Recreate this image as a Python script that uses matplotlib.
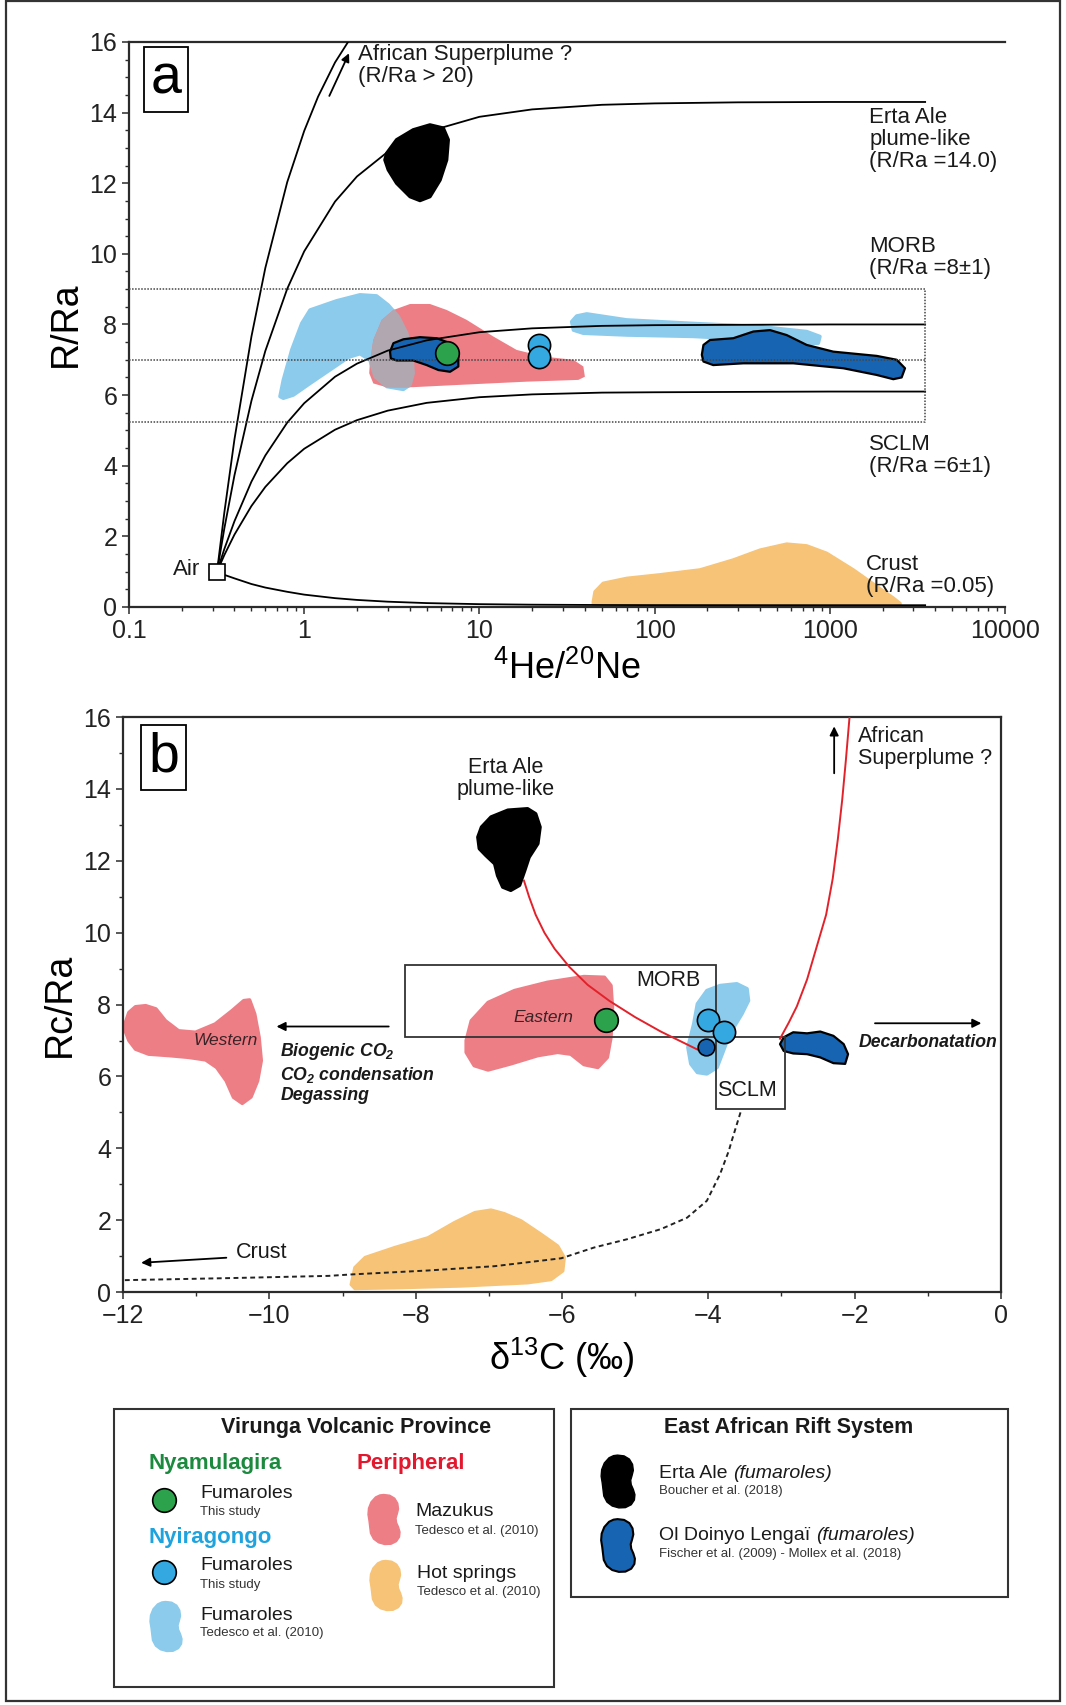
import matplotlib
matplotlib.use("Agg")
import matplotlib.pyplot as plt
from matplotlib.patches import Rectangle
from matplotlib.path import Path
from matplotlib.ticker import FixedLocator, MultipleLocator, LogLocator, NullFormatter

plt.rcParams['font.family'] = ['Liberation Sans', 'DejaVu Sans']
plt.rcParams['mathtext.fontset'] = 'custom'
plt.rcParams['mathtext.rm'] = 'Liberation Sans'
plt.rcParams['mathtext.it'] = 'Liberation Sans:italic'
plt.rcParams['mathtext.bf'] = 'Liberation Sans:bold'
plt.rcParams['mathtext.default'] = 'regular'

# --- colours ---
C_LBLUE = '#8ccbec'
C_RED = '#ee7e86'
C_GREY = '#b1a7b1'
C_DBLUE = '#1765b2'
C_CYAN = '#34a9e1'
C_GREEN = '#2ba24b'
C_ORANGE = '#f6c377'
C_LINE = '#e2222b'

# --- panel a : mixing curves (4He/20Ne vs R/Ra) ---
air_x, air_y = 0.318, 1.0
mix_x = [0.318, 0.35, 0.4, 0.5, 0.6, 0.8, 1, 1.5, 2, 3, 5, 10, 20, 50, 100, 300, 1000, 3500]
erta_y = [1.0, 2.22, 3.73, 5.84, 7.25, 9.01, 10.07, 11.48, 12.19, 12.89, 13.45, 13.88, 14.09, 14.22, 14.26, 14.29, 14.3, 14.3]
morb_y = [1.0, 1.64, 2.43, 3.55, 4.29, 5.22, 5.77, 6.52, 6.89, 7.26, 7.55, 7.78, 7.89, 7.96, 7.98, 7.99, 8.0, 8.0]
sclm_y = [1.0, 1.47, 2.05, 2.86, 3.4, 4.07, 4.48, 5.02, 5.29, 5.56, 5.78, 5.94, 6.02, 6.07, 6.08, 6.09, 6.1, 6.1]
crust_y = [1.0, 0.91, 0.81, 0.65, 0.55, 0.43, 0.35, 0.25, 0.2, 0.15, 0.11, 0.08, 0.065, 0.056, 0.053, 0.051, 0.05, 0.05]
plume_x = [0.318, 0.35, 0.4, 0.5, 0.6, 0.8, 1, 1.2, 1.5, 1.78]
plume_y = [1.0, 2.67, 4.75, 7.66, 9.6, 12.03, 13.48, 14.45, 15.42, 16.0]
morb_box_x = [0.1, 3500, 3500, 0.1]
morb_box_y = [9.0, 9.0, 5.25, 5.25]
morb_mid_y = 7.0

# panel a fields (He/Ne, R/Ra)
a_lblue_x = [0.727, 0.76, 0.849, 0.968, 1.08, 1.53, 2.08, 2.59, 3.02, 3.45, 3.85, 4.11, 4.19, 4.02, 3.68,
             2.96, 2.54, 2.37, 2.08, 1.79, 1.40, 1.08, 0.867, 0.76]
a_lblue_y = [5.96, 6.43, 7.28, 8.03, 8.41, 8.67, 8.84, 8.81, 8.55, 8.22, 7.75, 7.18, 6.62, 6.29, 6.16,
             6.24, 6.52, 7.0, 7.17, 7.07, 6.71, 6.33, 6.0, 5.91]
a_red_x = [2.37, 2.48, 2.77, 3.23, 4.02, 5.22, 6.51, 8.46, 12.0, 16.3, 23.2, 34.4, 39.2, 40.0, 36.7,
           18.6, 7.74, 4.02, 2.96, 2.48, 2.35]
a_red_y = [6.90, 7.56, 8.13, 8.41, 8.58, 8.58, 8.41, 8.13, 7.66, 7.28, 7.09, 7.0, 6.81, 6.52, 6.43,
           6.38, 6.29, 6.22, 6.22, 6.33, 6.62]
a_lblue2_x = [33.6, 35.9, 41.0, 69.3, 166, 400, 738, 879, 860, 738, 400, 166, 69.3, 39.2, 34.4]
a_lblue2_y = [8.08, 8.24, 8.30, 8.13, 8.03, 7.94, 7.80, 7.66, 7.47, 7.45, 7.56, 7.66, 7.70, 7.75, 7.84]
a_dblue1_x = [3.09, 3.23, 3.68, 4.58, 5.71, 6.80, 7.58, 7.58, 6.80, 5.83, 5.0, 4.19, 3.37, 3.12]
a_dblue1_y = [7.23, 7.47, 7.58, 7.64, 7.61, 7.47, 7.14, 6.81, 6.66, 6.71, 6.85, 6.98, 6.98, 7.04]
a_dblue2_x = [186, 190, 207, 281, 366, 456, 567, 738, 1047, 1852, 2409, 2686, 2570, 2304, 1852,
              1194, 619, 321, 216, 190]
a_dblue2_y = [7.14, 7.42, 7.56, 7.61, 7.80, 7.84, 7.70, 7.42, 7.23, 7.11, 7.0, 6.76, 6.50, 6.45, 6.57,
              6.76, 6.90, 6.90, 6.85, 6.95]
a_black_x = [2.96, 3.37, 4.19, 5.22, 6.22, 6.64, 6.50, 5.96, 5.22, 4.58, 4.02, 3.37, 3.02, 2.89]
a_black_y = [12.85, 13.23, 13.51, 13.65, 13.56, 13.23, 12.66, 12.09, 11.62, 11.51, 11.62, 12.0, 12.38, 12.66]
a_orange_x = [44.7, 45.7, 50.9, 69.3, 107, 182, 281, 400, 567, 738, 959, 1361, 1852, 2304, 2516, 2516, 44.7]
a_orange_y = [0.15, 0.43, 0.67, 0.81, 0.91, 1.05, 1.33, 1.61, 1.78, 1.73, 1.52, 1.05, 0.58, 0.25, 0.1, 0.08, 0.08]
a_green_x, a_green_y = [6.5], [7.2]
a_cyan_x, a_cyan_y = [22.0, 22.0], [7.42, 7.07]

# --- panel b : d13C vs Rc/Ra ---
morb_rect = (-8.15, 7.1, 4.25, 2.0)    # x, y, width, height
sclm_rect = (-3.9, 5.1, 0.95, 2.0)
b_red_x = [-11.99, -11.92, -11.83, -11.69, -11.55, -11.42, -11.24, -11.01, -10.74, -10.51, -10.35, -10.27,
           -10.20, -10.14, -10.11, -10.16, -10.25, -10.37, -10.49, -10.59, -10.72, -10.87, -11.10, -11.37,
           -11.65, -11.83, -11.92]
b_red_y = [7.37, 7.78, 7.94, 7.97, 7.88, 7.55, 7.27, 7.23, 7.46, 7.83, 8.11, 8.13, 7.74, 7.09, 6.44, 5.88,
           5.43, 5.25, 5.42, 5.88, 6.25, 6.46, 6.53, 6.58, 6.62, 6.76, 7.0]
b_east_x = [-7.31, -7.24, -7.01, -6.65, -6.20, -5.70, -5.42, -5.33, -5.31, -5.33, -5.38, -5.51, -5.70,
            -5.88, -6.06, -6.33, -6.70, -7.01, -7.20, -7.31]
b_east_y = [7.0, 7.55, 8.06, 8.39, 8.62, 8.78, 8.76, 8.53, 7.92, 7.09, 6.53, 6.25, 6.33, 6.62, 6.67,
            6.58, 6.35, 6.18, 6.30, 6.67]
b_lblue_x = [-4.20, -4.15, -4.02, -3.84, -3.61, -3.47, -3.45, -3.54, -3.65, -3.74, -3.81, -3.88, -4.02,
             -4.15, -4.24, -4.28]
b_lblue_y = [7.46, 8.02, 8.39, 8.53, 8.58, 8.44, 8.11, 7.74, 7.37, 7.0, 6.62, 6.25, 6.07, 6.11, 6.35, 6.81]
b_dblue_x = [-3.02, -2.97, -2.84, -2.65, -2.47, -2.29, -2.15, -2.09, -2.13, -2.29, -2.47, -2.65, -2.84, -2.97]
b_dblue_y = [6.90, 7.09, 7.23, 7.20, 7.25, 7.13, 6.90, 6.62, 6.35, 6.37, 6.53, 6.62, 6.64, 6.71]
b_black_x = [-7.15, -7.10, -6.97, -6.74, -6.47, -6.36, -6.30, -6.33, -6.45, -6.51, -6.58, -6.70, -6.81,
             -6.88, -6.92, -7.04, -7.13]
b_black_y = [12.66, 12.94, 13.22, 13.41, 13.45, 13.31, 12.94, 12.48, 12.10, 11.73, 11.32, 11.18, 11.27,
             11.59, 11.92, 12.15, 12.34]
b_orange_x = [-8.88, -8.83, -8.69, -8.28, -7.83, -7.47, -7.19, -6.97, -6.79, -6.56, -6.29, -6.06, -5.97,
              -5.99, -6.15, -6.47, -7.38, -8.28, -8.83]
b_orange_y = [0.21, 0.68, 0.96, 1.24, 1.51, 1.93, 2.21, 2.28, 2.18, 1.98, 1.61, 1.28, 0.96, 0.59, 0.35,
              0.26, 0.17, 0.12, 0.10]
b_green_x, b_green_y = [-5.40], [7.57]
b_cyan_x, b_cyan_y = [-4.01, -3.78], [7.58, 7.23]
b_dot_x, b_dot_y = [-4.03], [6.81]
erta_line_x = [-6.52, -6.45, -6.36, -6.24, -6.10, -5.90, -5.65, -5.35, -5.0, -4.65, -4.35, -4.07]
erta_line_y = [11.45, 11.0, 10.5, 10.0, 9.55, 9.05, 8.55, 8.1, 7.65, 7.25, 6.95, 6.67]
plume_line_x = [-3.02, -2.90, -2.79, -2.65, -2.52, -2.39, -2.30, -2.23, -2.17, -2.12, -2.07]
plume_line_y = [7.05, 7.5, 7.95, 8.7, 9.6, 10.5, 11.5, 12.6, 13.7, 14.8, 16.0]
crust_line_x = [-3.56, -3.68, -3.72, -3.84, -4.02, -4.29, -4.65, -5.11, -5.56, -6.01, -6.92, -7.83, -8.88,
                -9.19, -10.5, -12.0]
crust_line_y = [5.0, 4.21, 3.93, 3.28, 2.54, 2.07, 1.75, 1.47, 1.24, 0.94, 0.72, 0.60, 0.49, 0.45, 0.39, 0.33]

a_xticks = [0.1, 1, 10, 100, 1000, 10000]
a_xticklabels = ['0.1', '1', '10', '100', '1000', '10000']
yticks = [0, 2, 4, 6, 8, 10, 12, 14, 16]
b_xticks = [-12, -10, -8, -6, -4, -2, 0]

fig = plt.figure(figsize=(10.66, 17.05), dpi=100)


def blob(ax, xs, ys, color, edge=None, z=2, lw=2.5):
    if edge is None:
        p = ax.fill(xs, ys, facecolor=color, edgecolor=color, lw=lw, joinstyle='round', zorder=z)
    else:
        p = ax.fill(xs, ys, facecolor=color, edgecolor=edge, lw=1.6, joinstyle='round', zorder=z)
    return p[0]


def style_axes(ax):
    for s in ax.spines.values():
        s.set_linewidth(1.6)
        s.set_color('#2b2b2b')
    ax.tick_params(which='major', direction='out', length=5, width=1.1, labelsize=18, colors='#2b2b2b',
                   labelcolor='#222222')
    ax.tick_params(which='minor', direction='out', length=3, width=1.0, colors='#2b2b2b')


# ================= panel a =================
ax = fig.add_axes([0.1210, 0.6440, 0.8218, 0.3314])
ax.set_xscale('log')
ax.set_xlim(0.1, 10000)
ax.set_ylim(0, 16)
style_axes(ax)
ax.spines['right'].set_visible(False)
ax.xaxis.set_major_locator(FixedLocator(a_xticks))
ax.set_xticklabels(a_xticklabels)
ax.xaxis.set_minor_locator(LogLocator(base=10, subs=range(2, 10)))
ax.xaxis.set_minor_formatter(NullFormatter())
ax.set_yticks(yticks)
ax.yaxis.set_minor_locator(MultipleLocator(0.5))

lb = blob(ax, a_lblue_x, a_lblue_y, C_LBLUE, z=2)
rd = blob(ax, a_red_x, a_red_y, C_RED, z=3, lw=0)
gr = ax.fill(a_lblue_x, a_lblue_y, facecolor=C_GREY, edgecolor=C_GREY, lw=2.5, joinstyle='round', zorder=3.5)[0]
gr.set_clip_path(rd)
blob(ax, a_lblue2_x, a_lblue2_y, C_LBLUE, z=2)
blob(ax, a_orange_x, a_orange_y, C_ORANGE, z=2)
blob(ax, a_black_x, a_black_y, 'black', z=4)
blob(ax, a_dblue1_x, a_dblue1_y, C_DBLUE, edge='black', z=4)
blob(ax, a_dblue2_x, a_dblue2_y, C_DBLUE, edge='black', z=4)

dot = dict(linestyle='none', marker='o', markeredgecolor='black', markeredgewidth=1.2, zorder=7)
line_kw = dict(color='black', lw=1.3, zorder=5)
ax.plot(mix_x, erta_y, **line_kw)
ax.plot(mix_x, morb_y, **line_kw)
ax.plot(mix_x, sclm_y, **line_kw)
ax.plot(mix_x, crust_y, **line_kw)
ax.plot(plume_x, plume_y, **line_kw)
dotted = dict(color='#444444', lw=1.1, linestyle=(0, (1, 1)), zorder=5)
ax.plot(morb_box_x, morb_box_y, **dotted)
ax.plot([morb_box_x[0], morb_box_x[1]], [morb_mid_y, morb_mid_y], **dotted)

ax.plot(a_green_x, a_green_y, markerfacecolor=C_GREEN, markersize=17, **dot)
ax.plot(a_cyan_x, a_cyan_y, markerfacecolor=C_CYAN, markersize=16, **dot)
ax.plot([air_x], [air_y], linestyle='none', marker='s', markersize=12, markerfacecolor='white',
        markeredgecolor='black', markeredgewidth=1.2, zorder=8)

ax.annotate('', xy=(1.83, 15.75), xytext=(1.37, 14.4),
            arrowprops=dict(arrowstyle='-|>', color='black', lw=1.3, mutation_scale=12))
tk = dict(fontsize=16, color='#1a1a1a', linespacing=1.05)
ax.text(2.03, 15.95, 'African Superplume ?\n(R/Ra > 20)', va='top', ha='left', **tk)
ax.text(1680, 14.15, 'Erta Ale\nplume-like\n(R/Ra =14.0)', va='top', ha='left', **tk)
ax.text(1680, 10.5, 'MORB\n(R/Ra =8±1)', va='top', ha='left', **tk)
ax.text(1680, 4.9, 'SCLM\n(R/Ra =6±1)', va='top', ha='left', **tk)
ax.text(1600, 1.5, 'Crust\n(R/Ra =0.05)', va='top', ha='left', **tk)
ax.text(0.255, 1.05, 'Air', va='center', ha='right', **tk)
ax.text(0.042, 0.934, 'a', transform=ax.transAxes, fontsize=40, ha='center', va='center',
        bbox=dict(boxstyle='square,pad=0.12', facecolor='white', edgecolor='black', lw=1.3), zorder=9)
ax.set_ylabel('R/Ra', fontsize=27, labelpad=4)
ax.set_xlabel('$^{4}$He/$^{20}$Ne', fontsize=26, labelpad=6)

# ================= panel b =================
bx = fig.add_axes([0.1154, 0.2422, 0.8236, 0.3372])
bx.set_xlim(-12, 0)
bx.set_ylim(0, 16)
style_axes(bx)
bx.set_xticks(b_xticks)
bx.xaxis.set_minor_locator(MultipleLocator(1))
bx.set_yticks(yticks)
bx.yaxis.set_minor_locator(MultipleLocator(1))

blob(bx, b_red_x, b_red_y, C_RED, z=2)
blob(bx, b_east_x, b_east_y, C_RED, z=2)
blob(bx, b_lblue_x, b_lblue_y, C_LBLUE, z=2)
blob(bx, b_orange_x, b_orange_y, C_ORANGE, z=2)
blob(bx, b_black_x, b_black_y, 'black', z=3)
blob(bx, b_dblue_x, b_dblue_y, C_DBLUE, edge='black', z=4)

bx.add_patch(Rectangle(morb_rect[:2], morb_rect[2], morb_rect[3], fill=False, edgecolor='#333333', lw=1.3, zorder=4))
bx.add_patch(Rectangle(sclm_rect[:2], sclm_rect[2], sclm_rect[3], fill=False, edgecolor='#333333', lw=1.3, zorder=4))

bx.plot(erta_line_x, erta_line_y, color=C_LINE, lw=1.4, zorder=5)
bx.plot(plume_line_x, plume_line_y, color=C_LINE, lw=1.4, zorder=5)
bx.plot(crust_line_x, crust_line_y, color='#222222', lw=1.4, linestyle=(0, (2.5, 1.8)), zorder=5)

bx.plot(b_green_x, b_green_y, markerfacecolor=C_GREEN, markersize=17, **dot)
bx.plot(b_cyan_x, b_cyan_y, markerfacecolor=C_CYAN, markersize=16, **dot)
bx.plot(b_dot_x, b_dot_y, markerfacecolor=C_DBLUE, markersize=12, **dot)

arr = dict(arrowstyle='-|>', color='black', lw=1.3, mutation_scale=13)
bx.annotate('', xy=(-9.94, 7.39), xytext=(-8.33, 7.39), arrowprops=arr)
bx.annotate('', xy=(-0.23, 7.48), xytext=(-1.76, 7.48), arrowprops=arr)
bx.annotate('', xy=(-2.28, 15.82), xytext=(-2.28, 14.36), arrowprops=arr)
bx.annotate('', xy=(-11.79, 0.81), xytext=(-10.55, 0.96), arrowprops=arr)

tb = dict(fontsize=15.5, color='#1a1a1a', linespacing=1.05)
bx.text(-6.77, 14.3, 'Erta Ale\nplume-like', ha='center', va='center', **tb)
bx.text(-1.95, 15.75, 'African\nSuperplume ?', ha='left', va='top', **tb)
bx.text(-4.11, 8.67, 'MORB', ha='right', va='center', **tb)
bx.text(-3.47, 5.6, 'SCLM', ha='center', va='center', **tb)
bx.text(-10.46, 1.11, 'Crust', ha='left', va='center', **tb)
bx.text(-6.26, 7.63, 'Eastern', ha='center', va='center', fontsize=12.5, style='italic', color='#3a2326', zorder=6)
bx.text(-10.6, 7.0, 'Western', ha='center', va='center', fontsize=12.5, style='italic', color='#3a2326', zorder=6)
bx.text(-9.85, 7.0, 'Biogenic CO$_2$\nCO$_2$ condensation\nDegassing', ha='left', va='top', fontsize=12.7,
        weight='bold', style='italic', color='#1a1a1a', linespacing=1.2)
bx.text(-1.95, 6.94, 'Decarbonatation', ha='left', va='center', fontsize=12.7, weight='bold', style='italic',
        color='#1a1a1a')
bx.text(0.046, 0.930, 'b', transform=bx.transAxes, fontsize=40, ha='center', va='center',
        bbox=dict(boxstyle='square,pad=0.12', facecolor='white', edgecolor='black', lw=1.3), zorder=9)
bx.set_ylabel('Rc/Ra', fontsize=27, labelpad=4)
bx.set_xlabel('δ$^{13}$C (‰)', fontsize=26, labelpad=6)

# ================= legend (pixel layout) =================
lg = fig.add_axes([0, 0, 1, 1], zorder=-1)
lg.set_xlim(0, 1066)
lg.set_ylim(1705, 0)
lg.axis('off')
lg.add_patch(Rectangle((6, 1), 1054, 1700, fill=False, edgecolor='#333333', lw=1.6))
lg.add_patch(Rectangle((114, 1409), 440, 278, fill=False, edgecolor='#333333', lw=1.5))
lg.add_patch(Rectangle((571, 1409), 437, 188, fill=False, edgecolor='#333333', lw=1.5))

bean = Path([(0.0, 1.0), (0.25, 0.97), (0.45, 0.85), (0.57, 0.65), (0.6, 0.42), (0.55, 0.22), (0.5, 0.05),
             (0.52, -0.12), (0.6, -0.3), (0.66, -0.5), (0.64, -0.7), (0.52, -0.88), (0.3, -0.99),
             (0.05, -1.0), (-0.2, -0.93), (-0.4, -0.78), (-0.52, -0.55), (-0.55, -0.3), (-0.58, -0.05),
             (-0.62, 0.2), (-0.6, 0.45), (-0.5, 0.7), (-0.32, 0.9), (-0.15, 0.98), (0.0, 1.0)], closed=True)

h1 = dict(fontsize=15.5, weight='bold', va='center')
h2 = dict(fontsize=16, weight='bold', va='center')
f1 = dict(fontsize=14, va='center', color='#1a1a1a')
s1 = dict(fontsize=9.5, va='center', color='#333333')
lg.text(356, 1427, 'Virunga Volcanic Province', ha='center', color='#1a1a1a', **h1)
lg.text(149, 1463, 'Nyamulagira', ha='left', color='#1b8a3e', **h2)
lg.text(357, 1463, 'Peripheral', ha='left', color='#e3172d', **h2)
lg.text(149, 1538, 'Nyiragongo', ha='left', color='#1fa3de', **h2)
lg.plot([163.5], [1500], markerfacecolor=C_GREEN, markersize=17, **dot)
lg.plot([163.5], [1572], markerfacecolor=C_CYAN, markersize=17, **dot)
lg.plot([165], [1626], marker=bean, markersize=36, color=C_LBLUE, linestyle='none')
lg.plot([383], [1519], marker=bean, markersize=36, color=C_RED, linestyle='none')
lg.plot([385], [1585], marker=bean, markersize=36, color=C_ORANGE, linestyle='none')
lg.plot([617], [1481], marker=bean, markersize=38, color='black', linestyle='none')
lg.plot([617], [1545], marker=bean, markersize=38, markerfacecolor=C_DBLUE, markeredgecolor='black',
        markeredgewidth=1.5, linestyle='none')
lg.text(200, 1493, 'Fumaroles', ha='left', **f1)
lg.text(200, 1512, 'This study', ha='left', **s1)
lg.text(200, 1566, 'Fumaroles', ha='left', **f1)
lg.text(200, 1585, 'This study', ha='left', **s1)
lg.text(200, 1615, 'Fumaroles', ha='left', **f1)
lg.text(200, 1633, 'Tedesco et al. (2010)', ha='left', **s1)
lg.text(415, 1512, 'Mazukus', ha='left', **f1)
lg.text(415, 1531, 'Tedesco et al. (2010)', ha='left', **s1)
lg.text(417, 1573, 'Hot springs', ha='left', **f1)
lg.text(417, 1592, 'Tedesco et al. (2010)', ha='left', **s1)
lg.text(789, 1427, 'East African Rift System', ha='center', color='#1a1a1a', **h1)
t1 = lg.text(659, 1473, 'Erta Ale', ha='left', **f1)
lg.annotate('(fumaroles)', xy=(1, 0.5), xycoords=t1, xytext=(4, 0), textcoords='offset points',
            ha='left', style='italic', **f1)
lg.text(659, 1491, 'Boucher et al. (2018)', ha='left', **s1)
t2 = lg.text(659, 1536, 'Ol Doinyo Lengaï', ha='left', **f1)
lg.annotate('(fumaroles)', xy=(1, 0.5), xycoords=t2, xytext=(4, 0), textcoords='offset points',
            ha='left', style='italic', **f1)
lg.text(659, 1554, 'Fischer et al. (2009) - Mollex et al. (2018)', ha='left', **s1)

fig.savefig('out.png', dpi=100, facecolor='white')
